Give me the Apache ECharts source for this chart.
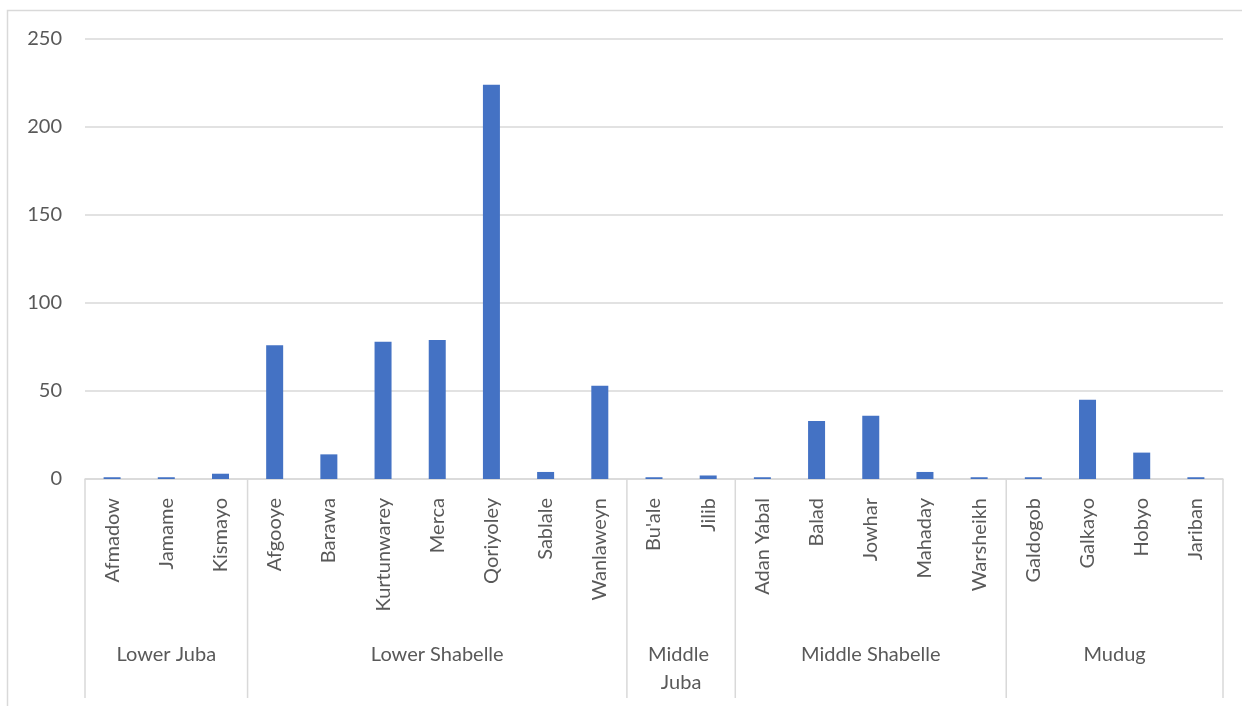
<!DOCTYPE html>
<html>
<head>
<meta charset="utf-8">
<script src="https://cdn.jsdelivr.net/npm/echarts@6/dist/echarts.min.js"></script>
<style>
  html, body { margin: 0; padding: 0; background: #ffffff; }
  #chart { width: 1242px; height: 706px; }
</style>
</head>
<body>
<div id="chart"></div>
<script>
// Districts, grouped by region (in order)
const districts = [
  'Afmadow', 'Jamame', 'Kismayo',
  'Afgooye', 'Barawa', 'Kurtunwarey', 'Merca', 'Qoriyoley', 'Sablale', 'Wanlaweyn',
  "Bu'ale", 'Jilib',
  'Adan Yabal', 'Balad', 'Jowhar', 'Mahaday', 'Warsheikh',
  'Galdogob', 'Galkayo', 'Hobyo', 'Jariban'
];
const counts = [
  1, 1, 3,
  76, 14, 78, 79, 224, 4, 53,
  1, 2,
  1, 33, 36, 4, 1,
  1, 45, 15, 1
];
// Regions: name, first district index, last district index
const regionNames = ['Lower Juba', 'Lower Shabelle', 'Middle Juba', 'Middle Shabelle', 'Mudug'];
const regionStart = [0, 3, 10, 12, 17];
const regionEnd = [2, 9, 11, 16, 20];
const yTicks = [0, 50, 100, 150, 200, 250];

const FONT = 'Lato, "Noto Sans", sans-serif';
const TEXT = '#595959';
const LINE = '#d9d9d9';

const regionData = regionNames.map((n, i) => [regionStart[i], regionEnd[i], n]);

const chart = echarts.init(document.getElementById('chart'), null, { renderer: 'canvas' });

chart.setOption({
  animation: false,
  backgroundColor: '#ffffff',
  graphic: [{
    type: 'rect',
    shape: { x: 7.5, y: 10.5, width: 1260, height: 720 },
    style: { fill: 'none', stroke: LINE, lineWidth: 1.5 },
    silent: true
  }],
  grid: { left: 85, right: 19, top: 39, bottom: 227, containLabel: false },
  xAxis: {
    type: 'category',
    data: districts,
    axisLine: { show: true, lineStyle: { color: LINE, width: 1.5 } },
    axisTick: { show: false },
    axisLabel: {
      rotate: 90,
      margin: 19,
      interval: 0,
      color: TEXT,
      fontFamily: FONT,
      fontSize: 20
    }
  },
  yAxis: {
    type: 'value',
    min: yTicks[0],
    max: yTicks[yTicks.length - 1],
    interval: 50,
    axisLine: { show: false },
    axisTick: { show: false },
    splitLine: { lineStyle: { color: LINE, width: 1.5 } },
    axisLabel: { color: TEXT, fontFamily: FONT, fontSize: 20, margin: 23 }
  },
  series: [
    {
      type: 'bar',
      data: counts,
      barWidth: 17,
      itemStyle: { color: '#4472C4' },
      z: 3
    },
    {
      // Region level of the category axis: separators and region names
      type: 'custom',
      silent: true,
      clip: false,
      z: 4,
      data: regionData,
      encode: { x: 0 },
      renderItem: function (params, api) {
        const s = api.value(0);
        const e = api.value(1);
        const idx = params.dataIndex;
        const name = regionNames[idx];
        const band = api.size([1, 0])[0];
        const p0 = api.coord([s, 0]);
        const p1 = api.coord([e, 0]);
        const left = p0[0] - band / 2;
        const right = p1[0] + band / 2;
        const y0 = p0[1];
        const children = [
          {
            type: 'line',
            shape: { x1: left, y1: y0, x2: left, y2: y0 + 219 },
            style: { stroke: LINE, lineWidth: 1.5 }
          },
          {
            type: 'text',
            style: {
              x: (left + right) / 2,
              y: y0 + 162,
              text: name,
              width: right - left - 20,
              overflow: 'break',
              align: 'center',
              verticalAlign: 'top',
              lineHeight: 28,
              fill: TEXT,
              font: '20px ' + FONT
            }
          }
        ];
        if (idx === regionNames.length - 1) {
          children.push({
            type: 'line',
            shape: { x1: right, y1: y0, x2: right, y2: y0 + 219 },
            style: { stroke: LINE, lineWidth: 1.5 }
          });
        }
        return { type: 'group', children: children };
      }
    }
  ]
});
</script>
</body>
</html>
